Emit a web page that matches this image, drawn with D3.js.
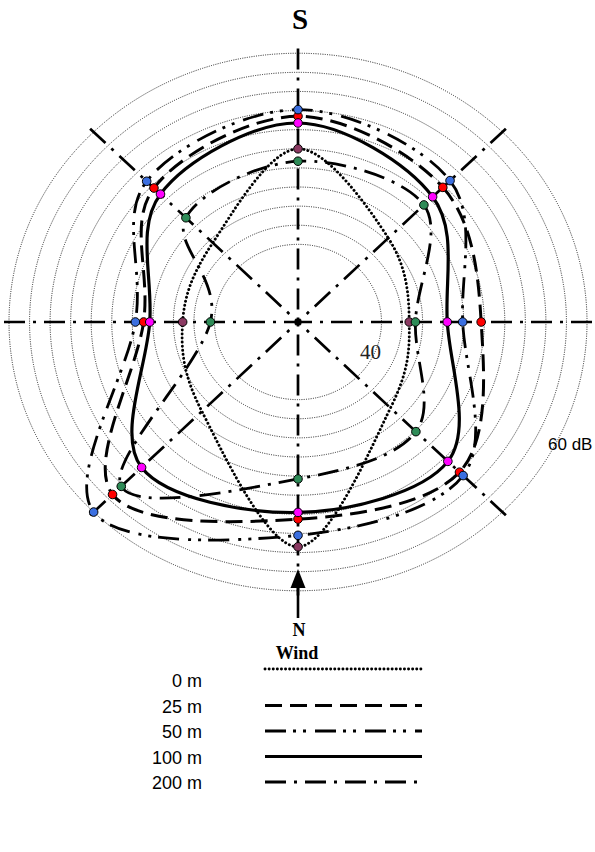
<!DOCTYPE html>
<html><head><meta charset="utf-8">
<script src="https://cdn.jsdelivr.net/npm/d3@7"></script>
<style>body{margin:0;background:#fff}</style></head>
<body>
<svg id="c" width="595" height="852"></svg>
<script>
// directions, clockwise from the top of the figure (S at top, N at bottom)
const directions = ["S", "S-W", "W", "N-W", "N", "N-E", "E", "S-E"];
const angleDeg = [0, 45, 90, 135, 180, 225, 270, 315];
const ringLevels = [40, 42, 44, 46, 48, 50, 52, 54, 56, 58, 60];
const seriesNames = ["0 m", "25 m", "50 m", "100 m", "200 m"];
// sound level (dB) per direction
const level0m   = [50.0, 44.3, 42.7, 44.6, 55.4, 45.1, 43.1, 43.6];
const level25m  = [53.4, 51.8, 49.7, 54.1, 52.5, 57.4, 46.9, 51.7];
const level50m  = [54.1, 52.8, 47.9, 54.6, 54.2, 60.0, 47.7, 52.7];
const level100m = [52.7, 50.4, 46.4, 52.5, 51.8, 53.4, 46.3, 50.8];
const level200m = [48.7, 49.2, 43.3, 48.1, 48.3, 56.2, 40.4, 47.3];
// which directions were measured (carry a marker)
const measured0m   = [1, 0, 1, 0, 1, 0, 1, 0];
const measuredAll  = [1, 1, 1, 1, 1, 1, 1, 1];

const svg = d3.select("#c");
const cx = 298, cy = 322, k = 0.93;
const r = d3.scaleLinear().domain([40, 60]).range([83.5, 289]);
const a = d3.scaleLinear().domain([0, 360]).range([0, 2 * Math.PI]);
const P = (px, deg) => [cx + px * Math.sin(a(deg)), cy - k * px * Math.cos(a(deg))];

// rings
svg.append("g").selectAll("ellipse").data(ringLevels).join("ellipse")
  .attr("cx", cx).attr("cy", cy)
  .attr("rx", d => r(d)).attr("ry", d => k * r(d))
  .attr("fill", "none").attr("stroke", "#222").attr("stroke-width", 1)
  .attr("stroke-dasharray", "1,1.3");

// radial axes (drawn from the outside in)
const axisR = r(60) + 5;
svg.append("g").selectAll("line").data(angleDeg).join("line")
  .attr("x1", d => P(axisR, d)[0]).attr("y1", d => P(axisR, d)[1])
  .attr("x2", cx).attr("y2", cy)
  .attr("stroke", "#000").attr("stroke-width", 2.7)
  .attr("stroke-dasharray", "21,8,3,8");

const series = [
  {name: seriesNames[0], vals: level0m,   mk: measured0m,  color: "#8b3a62", dash: "0.1,4", w: 2.9, cap: "round"},
  {name: seriesNames[1], vals: level25m,  mk: measuredAll, color: "#ff0000", dash: "17,8", w: 3, cap: "butt"},
  {name: seriesNames[2], vals: level50m,  mk: measuredAll, color: "#3b6fe0", dash: "21,7,3,7,3,9", w: 2.8, cap: "butt"},
  {name: seriesNames[3], vals: level100m, mk: measuredAll, color: "#ff00ff", dash: null, w: 3.2, cap: "butt"},
  {name: seriesNames[4], vals: level200m, mk: measuredAll, color: "#2e8b57", dash: "21,8,3,8", w: 2.8, cap: "butt"}
];

const line = d3.line().curve(d3.curveCardinalClosed.tension(0));
const gl = svg.append("g");
series.forEach(s => {
  const pts = s.vals.map((v, i) => P(r(v), angleDeg[i]));
  gl.append("path").attr("d", line(pts)).attr("fill", "none")
    .attr("stroke", "#000").attr("stroke-width", s.w)
    .attr("stroke-linecap", s.cap)
    .attr("stroke-dasharray", s.dash);
});
const gm = svg.append("g");
series.forEach(s => {
  const pts = s.vals.map((v, i) => ({p: P(r(v), angleDeg[i]), m: s.mk[i]})).filter(d => d.m);
  gm.selectAll(null).data(pts).join("circle")
    .attr("cx", d => d.p[0]).attr("cy", d => d.p[1]).attr("r", 4.3)
    .attr("fill", s.color).attr("stroke", "#000").attr("stroke-width", 1);
});

// labels
svg.append("text").attr("x", 300).attr("y", 29).attr("text-anchor", "middle")
  .attr("font-family", "Liberation Serif, Times New Roman, serif").attr("font-weight", "bold")
  .attr("font-size", 29).text("S");
svg.append("text").attr("x", 360).attr("y", 359)
  .attr("font-family", "Liberation Serif, Times New Roman, serif")
  .attr("font-size", 21).attr("fill", "#222").text("40");
svg.append("text").attr("x", 548).attr("y", 450)
  .attr("font-family", "Liberation Sans, Arial, sans-serif")
  .attr("font-size", 17).text("60 dB");

// wind arrow
svg.append("line").attr("x1", 298).attr("y1", 618).attr("x2", 298).attr("y2", 586)
  .attr("stroke", "#000").attr("stroke-width", 2.6);
svg.append("path").attr("d", "M298,569 L305.5,588 L290.5,588 Z").attr("fill", "#000");
svg.append("text").attr("x", 299).attr("y", 636).attr("text-anchor", "middle")
  .attr("font-family", "Liberation Serif, Times New Roman, serif").attr("font-weight", "bold")
  .attr("font-size", 18).text("N");
svg.append("text").attr("x", 297).attr("y", 659).attr("text-anchor", "middle")
  .attr("font-family", "Liberation Serif, Times New Roman, serif").attr("font-weight", "bold")
  .attr("font-size", 18).text("Wind");

// legend
const legY = d3.scalePoint().domain(seriesNames).range([687, 789]);
const lg = svg.append("g");
series.forEach(s => {
  const y = legY(s.name);
  lg.append("text").attr("x", 202).attr("y", y).attr("text-anchor", "end")
    .attr("font-family", "Liberation Sans, Arial, sans-serif").attr("font-size", 18)
    .text(s.name);
  const ly = s.name === seriesNames[0] ? y - 18 : y - 7;
  lg.append("line").attr("x1", 265).attr("x2", 422).attr("y1", ly).attr("y2", ly)
    .attr("stroke", "#000").attr("stroke-width", s.w)
    .attr("stroke-linecap", s.cap).attr("stroke-dasharray", s.dash);
});
</script>
</body></html>
